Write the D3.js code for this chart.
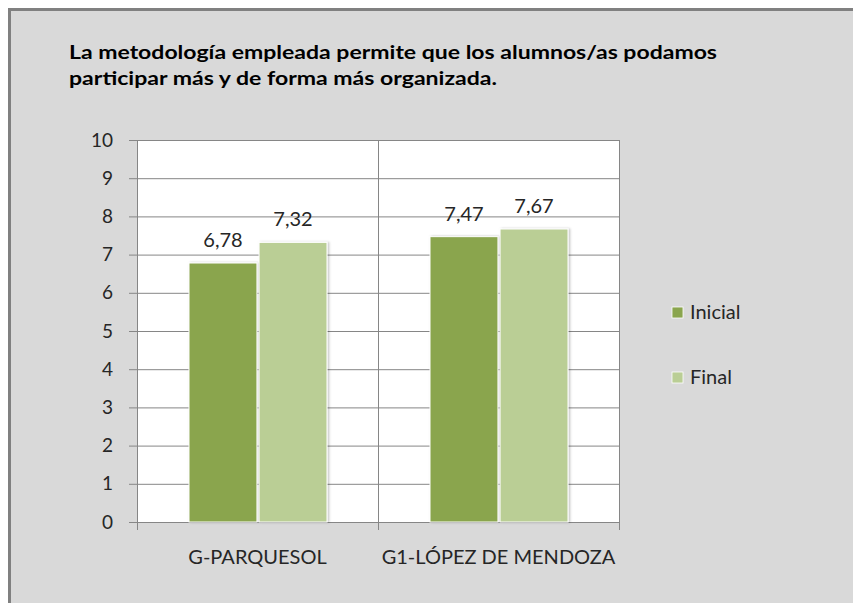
<!DOCTYPE html>
<html>
<head>
<meta charset="utf-8">
<script src="https://cdn.jsdelivr.net/npm/d3@7"></script>
<style>
  body { margin: 0; background: #fff; }
  text { font-family: Lato, "Open Sans", sans-serif; fill: #262626; }
</style>
</head>
<body>
<div id="chart-area"></div>
<script>
// data
const categories = ['G-PARQUESOL', 'G1-LÓPEZ DE MENDOZA'];
const series = ['Inicial', 'Final'];
const inicial = [6.78, 7.47];
const final = [7.32, 7.67];
const yTicks = [0, 1, 2, 3, 4, 5, 6, 7, 8, 9, 10];
const titleLines = [
  'La metodología empleada permite que los alumnos/as podamos',
  'participar más y de forma más organizada.'
];
const colors = { Inicial: '#8aa54e', Final: '#bace95' };

const W = 853, H = 603;
const plot = { left: 137, right: 619, top: 140, bottom: 522 };

const svg = d3.select('#chart-area').append('svg')
  .attr('width', W)
  .attr('height', H);

// drop shadow for bars
const defs = svg.append('defs');
const f = defs.append('filter').attr('id', 'shadow')
  .attr('x', '-10%').attr('y', '-10%').attr('width', '130%').attr('height', '130%');
f.append('feDropShadow')
  .attr('dx', 1.5).attr('dy', 0)
  .attr('stdDeviation', 1.2)
  .attr('flood-color', '#000')
  .attr('flood-opacity', 0.25);

// chart background + frame
svg.append('rect')
  .attr('x', 8).attr('y', 8)
  .attr('width', W - 8).attr('height', H - 8)
  .attr('fill', '#d9d9d9');
svg.append('rect')
  .attr('x', 8).attr('y', 8).attr('width', W - 8).attr('height', 3)
  .attr('fill', '#808080');
svg.append('rect')
  .attr('x', 8).attr('y', 8).attr('width', 3).attr('height', H - 8)
  .attr('fill', '#808080');

// title
svg.append('g').selectAll('text')
  .data(titleLines)
  .enter().append('text')
    .attr('x', 69)
    .attr('y', (d, i) => 59 + i * 26)
    .attr('font-size', '19px')
    .attr('font-weight', 'bold')
    .style('fill', '#000')
    .attr('textLength', (d, i) => i === 0 ? 648 : 428)
    .attr('lengthAdjust', 'spacingAndGlyphs')
    .text(d => d);

// scales
const x = d3.scaleBand()
  .domain(categories)
  .range([plot.left, plot.right])
  .paddingInner(0)
  .paddingOuter(0);

const xSub = d3.scaleBand()
  .domain(series)
  .range([52, 190])
  .paddingInner(0.03);

const y = d3.scaleLinear()
  .domain([0, 10])
  .range([plot.bottom, plot.top]);

// plot area
svg.append('rect')
  .attr('x', plot.left).attr('y', plot.top)
  .attr('width', plot.right - plot.left)
  .attr('height', plot.bottom - plot.top)
  .attr('fill', '#fff');

// y gridlines
const yAxisCall = d3.axisLeft(y)
  .tickValues(yTicks)
  .tickSize(-(plot.right - plot.left))
  .tickPadding(0)
  .tickFormat('');
svg.append('g')
  .attr('class', 'grid')
  .attr('transform', `translate(${plot.left}, 0)`)
  .call(yAxisCall)
  .call(g => g.select('.domain').remove())
  .call(g => g.selectAll('line').attr('stroke', '#868686'));

// y axis with outer ticks
const yAxis = svg.append('g')
  .attr('class', 'y-axis')
  .attr('transform', `translate(${plot.left}, 0)`)
  .call(d3.axisLeft(y).tickValues(yTicks).tickSize(8).tickPadding(16));
yAxis.select('.domain').attr('stroke', '#868686');
yAxis.selectAll('line').attr('stroke', '#868686');
yAxis.selectAll('text')
  .attr('font-size', '19px')
  .attr('font-family', 'Lato, "Open Sans", sans-serif')
  .attr('fill', '#262626');

// vertical category separators
const bounds = [plot.left, ...categories.map(c => x(c) + x.bandwidth())];
svg.append('g').selectAll('line')
  .data(bounds)
  .enter().append('line')
    .attr('x1', d => d + 0.5).attr('x2', d => d + 0.5)
    .attr('y1', plot.top).attr('y2', plot.bottom + 8)
    .attr('stroke', '#868686');

// x axis baseline
svg.append('line')
  .attr('x1', plot.left).attr('x2', plot.right)
  .attr('y1', plot.bottom + 0.5).attr('y2', plot.bottom + 0.5)
  .attr('stroke', '#868686');

// category labels
svg.append('g').selectAll('text')
  .data(categories)
  .enter().append('text')
    .attr('x', d => x(d) + x.bandwidth() / 2)
    .attr('y', 564)
    .attr('text-anchor', 'middle')
    .attr('font-size', '20px')
    .text(d => d);

// bars
const rows = categories.map((c, i) => ({ cat: c, Inicial: inicial[i], Final: final[i] }));
const groups = svg.append('g').selectAll('g')
  .data(rows)
  .enter().append('g')
    .attr('transform', d => `translate(${x(d.cat)}, 0)`);

groups.selectAll('rect')
  .data(d => series.map(s => ({ s, v: d[s] })))
  .enter().append('rect')
    .attr('x', d => xSub(d.s))
    .attr('y', d => y(d.v))
    .attr('width', xSub.bandwidth())
    .attr('height', d => plot.bottom - y(d.v))
    .attr('fill', d => colors[d.s])
    .attr('stroke', '#fff')
    .attr('stroke-width', 1)
    .attr('filter', 'url(#shadow)');

groups.selectAll('text')
  .data(d => series.map(s => ({ s, v: d[s] })))
  .enter().append('text')
    .attr('x', d => xSub(d.s) + xSub.bandwidth() / 2)
    .attr('y', d => y(d.v) - 16)
    .attr('text-anchor', 'middle')
    .attr('font-size', '20px')
    .text(d => d.v.toFixed(2).replace('.', ','));

// legend
const legend = svg.append('g').selectAll('g')
  .data(series)
  .enter().append('g')
    .attr('transform', (d, i) => `translate(672, ${307 + i * 65})`);
legend.append('rect')
  .attr('width', 11).attr('height', 11)
  .attr('fill', d => colors[d])
  .attr('stroke', '#fff')
  .attr('stroke-width', 0.8);
legend.append('text')
  .attr('x', 18)
  .attr('y', 12)
  .attr('font-size', '20px')
  .text(d => d);
</script>
</body>
</html>
